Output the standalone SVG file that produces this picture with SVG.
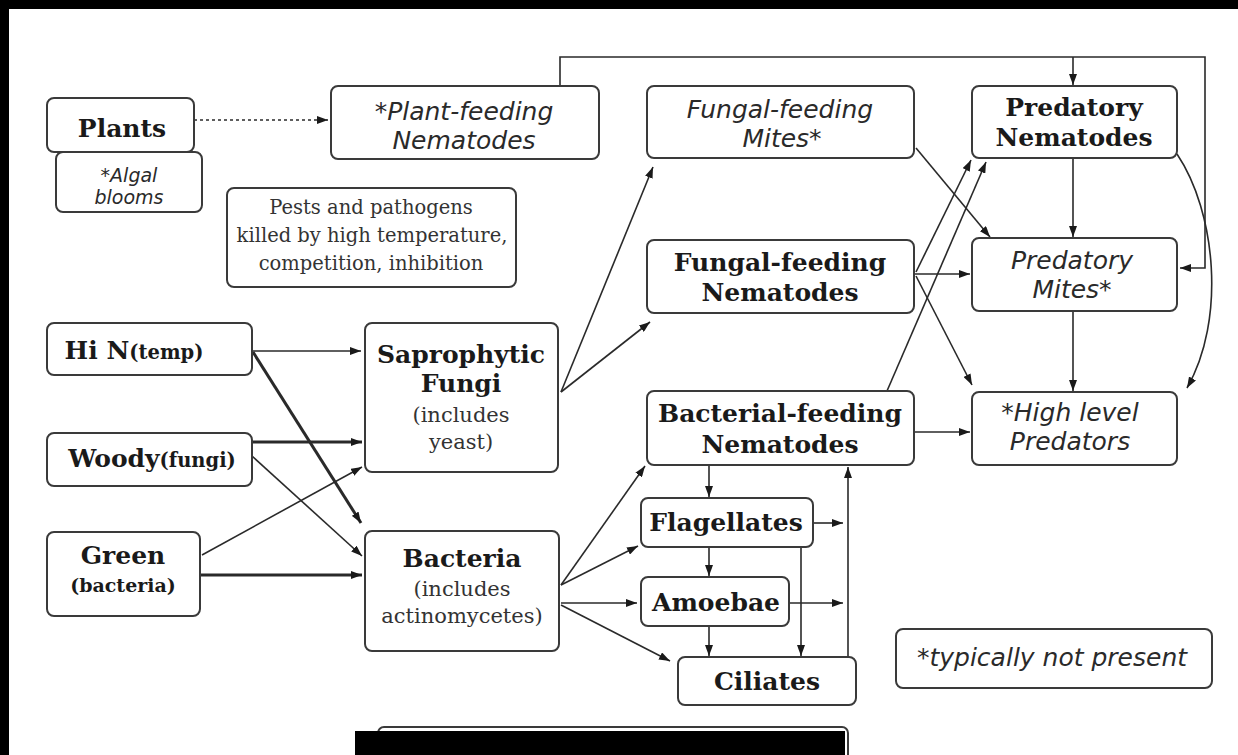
<svg xmlns="http://www.w3.org/2000/svg" width="1238" height="755" viewBox="0 0 1238 755">
<defs>
<style>
.box{fill:#fff;stroke:#3a3a3a;stroke-width:2}
.c{fill:none;stroke:#2a2a2a;stroke-width:1.6}
.thick{stroke-width:3}
.b{font-family:"DejaVu Serif","Liberation Serif",serif;font-weight:bold;font-size:25px;fill:#1a1a1a;text-anchor:middle}
.r{font-family:"DejaVu Serif","Liberation Serif",serif;font-size:19.5px;fill:#333;text-anchor:middle}
.i{font-family:"DejaVu Sans","Noto Sans",sans-serif;font-style:italic;font-size:25px;fill:#2a2a2a;text-anchor:middle}
.sm{font-size:19.5px}
</style>
<marker id="a" markerUnits="userSpaceOnUse" markerWidth="11" markerHeight="8" refX="11" refY="4" orient="auto"><path d="M0,0 L11,4 L0,8 z" fill="#1a1a1a"/></marker>
</defs>
<rect x="0" y="0" width="1238" height="755" fill="#fff"/>
<rect x="0" y="0" width="1238" height="9" fill="#000"/>
<rect x="0" y="0" width="9" height="755" fill="#000"/>

<g id="connectors">
<path class="c" d="M194,120 L328,120" stroke-width="2" stroke-dasharray="3,3" marker-end="url(#a)"/>
<path class="c" d="M560,86 L560,57 L1205,57 L1205,268 L1180,268" marker-end="url(#a)"/>
<path class="c" d="M1073,57 L1073,85" marker-end="url(#a)"/>
<path class="c" d="M916,148 L990,237" marker-end="url(#a)"/>
<path class="c" d="M1073,158 L1073,237" marker-end="url(#a)"/>
<path class="c" d="M1073,311 L1073,391" marker-end="url(#a)"/>
<path class="c" d="M1177,154 C1216,212 1226,320 1187,388" marker-end="url(#a)"/>
<path class="c" d="M914,274 L970,274" marker-end="url(#a)"/>
<path class="c" d="M916,272 L971,160" marker-end="url(#a)"/>
<path class="c" d="M916,276 L972,385" marker-end="url(#a)"/>
<path class="c" d="M887,391 L986,162" marker-end="url(#a)"/>
<path class="c" d="M914,432 L970,432" marker-end="url(#a)"/>
<path class="c" d="M561,392 L653,167" marker-end="url(#a)"/>
<path class="c" d="M561,392 L650,322" marker-end="url(#a)"/>
<path class="c" d="M252,351 L361,351" marker-end="url(#a)"/>
<path class="c thick" d="M253,352 L361,523" marker-end="url(#a)"/>
<path class="c thick" d="M252,442 L362,442" marker-end="url(#a)"/>
<path class="c" d="M252,456 L362,556" marker-end="url(#a)"/>
<path class="c" d="M202,555 L362,467" marker-end="url(#a)"/>
<path class="c thick" d="M200,575 L362,575" marker-end="url(#a)"/>
<path class="c" d="M561,585 L645,466" marker-end="url(#a)"/>
<path class="c" d="M561,585 L638,546" marker-end="url(#a)"/>
<path class="c" d="M561,603 L637,603" marker-end="url(#a)"/>
<path class="c" d="M561,605 L670,661" marker-end="url(#a)"/>
<path class="c" d="M709,465 L709,497" marker-end="url(#a)"/>
<path class="c" d="M709,547 L709,576" marker-end="url(#a)"/>
<path class="c" d="M709,626 L709,656" marker-end="url(#a)"/>
<path class="c" d="M813,523 L843,523" marker-end="url(#a)"/>
<path class="c" d="M789,603 L843,603" marker-end="url(#a)"/>
<path class="c" d="M801,547 L801,656" marker-end="url(#a)"/>
<path class="c" d="M848,657 L848,467" marker-end="url(#a)"/>
</g>

<g id="plants"><rect class="box" x="47" y="98" width="147" height="54" rx="7"/><text class="b" x="122" y="137">Plants</text></g>
<g id="algal"><rect class="box" x="56" y="152" width="146" height="60" rx="7"/><text class="i" style="font-size:19px" x="129" y="182">*Algal</text><text class="i" style="font-size:19px" x="129" y="204">blooms</text></g>
<g id="plant-feeding"><rect class="box" x="331" y="86" width="268" height="73" rx="7"/><text class="i" x="464" y="120">*Plant-feeding</text><text class="i" x="464" y="149">Nematodes</text></g>
<g id="pests"><rect class="box" x="227" y="188" width="289" height="99" rx="7"/><text class="r" x="371" y="214">Pests and pathogens</text><text class="r" x="372" y="242">killed by high temperature,</text><text class="r" x="371" y="270">competition, inhibition</text></g>
<g id="ff-mites"><rect class="box" x="647" y="86" width="267" height="72" rx="7"/><text class="i" x="780" y="118">Fungal-feeding</text><text class="i" x="782" y="147">Mites*</text></g>
<g id="pred-nem"><rect class="box" x="972" y="86" width="205" height="72" rx="7"/><text class="b" x="1074" y="116">Predatory</text><text class="b" x="1074" y="146">Nematodes</text></g>
<g id="ff-nem"><rect class="box" x="647" y="240" width="267" height="73" rx="7"/><text class="b" x="780" y="271">Fungal-feeding</text><text class="b" x="780" y="301">Nematodes</text></g>
<g id="pred-mites"><rect class="box" x="972" y="238" width="205" height="73" rx="7"/><text class="i" x="1072" y="269">Predatory</text><text class="i" x="1072" y="298">Mites*</text></g>
<g id="hin"><rect class="box" x="47" y="323" width="205" height="52" rx="7"/><text class="b" x="134" y="359">Hi N<tspan class="sm">(temp)</tspan></text></g>
<g id="sapro"><rect class="box" x="365" y="323" width="193" height="149" rx="7"/><text class="b" x="461" y="363">Saprophytic</text><text class="b" x="461" y="392">Fungi</text><text class="r" style="font-size:21px" x="461" y="422">(includes</text><text class="r" style="font-size:21px" x="461" y="449">yeast)</text></g>
<g id="bf-nem"><rect class="box" x="647" y="391" width="267" height="74" rx="7"/><text class="b" x="780" y="422">Bacterial-feeding</text><text class="b" x="780" y="453">Nematodes</text></g>
<g id="high-pred"><rect class="box" x="972" y="392" width="205" height="73" rx="7"/><text class="i" x="1070" y="421">*High level</text><text class="i" x="1070" y="450">Predators</text></g>
<g id="woody"><rect class="box" x="47" y="433" width="205" height="53" rx="7"/><text class="b" x="152" y="467">Woody<tspan class="sm">(fungi)</tspan></text></g>
<g id="green"><rect class="box" x="47" y="532" width="153" height="84" rx="7"/><text class="b" x="123" y="564">Green</text><text class="b" style="font-size:19px" x="123" y="592">(bacteria)</text></g>
<g id="bacteria"><rect class="box" x="365" y="531" width="194" height="120" rx="7"/><text class="b" x="462" y="567">Bacteria</text><text class="r" style="font-size:21px" x="462" y="596">(includes</text><text class="r" style="font-size:21px" x="462" y="623">actinomycetes)</text></g>
<g id="flagellates"><rect class="box" x="641" y="498" width="172" height="49" rx="7"/><text class="b" x="726" y="531">Flagellates</text></g>
<g id="amoebae"><rect class="box" x="641" y="577" width="148" height="49" rx="7"/><text class="b" x="716" y="611">Amoebae</text></g>
<g id="ciliates"><rect class="box" x="678" y="657" width="178" height="48" rx="7"/><text class="b" x="767" y="690">Ciliates</text></g>
<g id="note"><rect class="box" x="896" y="629" width="316" height="59" rx="7"/><text class="i" x="1052" y="666">*typically not present</text></g>
<g id="bottom"><rect class="box" x="378" y="727" width="470" height="40" rx="6"/><rect x="355" y="731" width="490" height="24" fill="#000"/></g>
</svg>
